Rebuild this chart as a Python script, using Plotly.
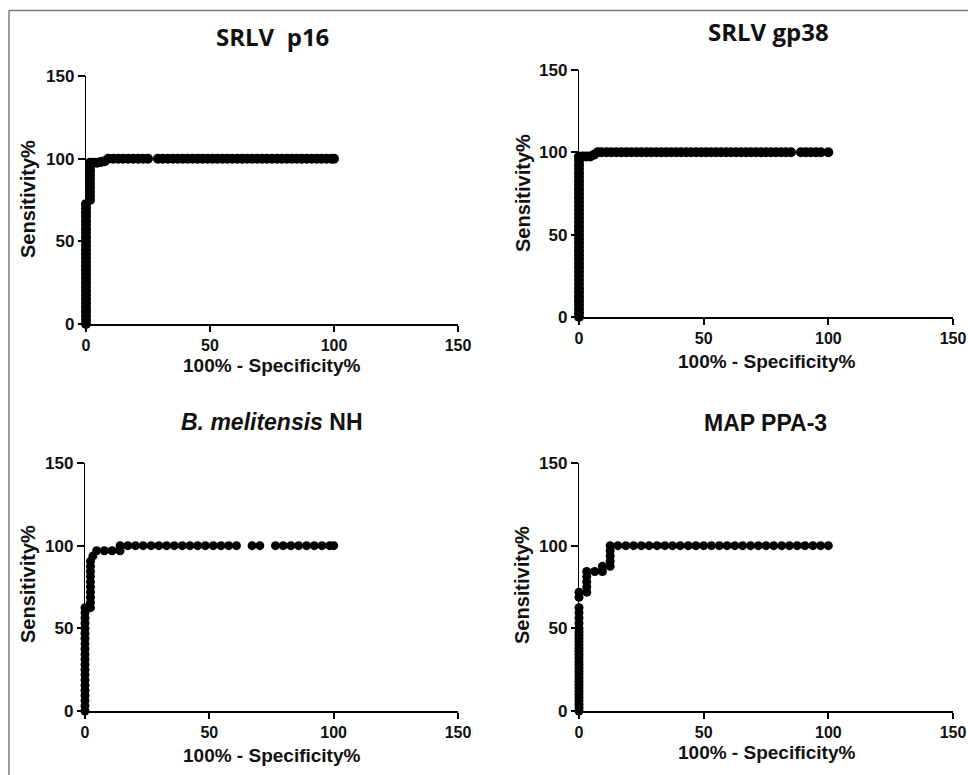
import plotly.graph_objects as go

# ---------------- data ----------------
PANEL_TITLES = ["SRLV  p16", "SRLV gp38", "<i>B. melitensis</i> NH", "MAP PPA-3"]
X_TITLE = "100% - Specificity%"
Y_TITLE = "Sensitivity%"
TICK_VALUES = [0, 50, 100, 150]

P16_FPR = [
    0, 0, 0, 0, 0, 0, 0, 0, 0, 0,
    0, 0, 0, 0, 0, 0, 0, 0, 0, 0,
    0, 0, 0, 0, 0, 0, 0, 0, 0, 0,
    1.6, 1.6, 1.6, 1.6, 1.6, 1.6, 1.6, 1.6, 1.6, 1.6,
    3, 4.5, 6, 7.5, 9, 11, 13, 15, 17, 19,
    21, 23, 25, 29, 31, 33, 35, 37, 39, 41,
    43, 45, 47, 49, 51, 53, 55, 57, 59, 61,
    63, 65, 67, 69, 71, 73, 75, 77, 79, 81,
    83, 85, 87, 89, 91, 93, 95, 97, 99, 100,
]
P16_SENS = [
    0, 2.5, 5, 7.5, 10, 12.5, 15, 17.5, 20, 22.5,
    25, 27.5, 30, 32.5, 35, 37.5, 40, 42.5, 45, 47.5,
    50, 52.5, 55, 57.5, 60, 62.5, 65, 67.5, 70, 72.5,
    75, 77.5, 80, 82.5, 85, 87.5, 90, 92.5, 95, 97.5,
    97.5, 97.5, 98, 98.5, 100, 100, 100, 100, 100, 100,
    100, 100, 100, 100, 100, 100, 100, 100, 100, 100,
    100, 100, 100, 100, 100, 100, 100, 100, 100, 100,
    100, 100, 100, 100, 100, 100, 100, 100, 100, 100,
    100, 100, 100, 100, 100, 100, 100, 100, 100, 100,
]

GP38_FPR = [
    0, 0, 0, 0, 0, 0, 0, 0, 0, 0,
    0, 0, 0, 0, 0, 0, 0, 0, 0, 0,
    0, 0, 0, 0, 0, 0, 0, 0, 0, 0,
    0, 0, 0, 0, 0, 0, 0, 0, 0, 0,
    1.5, 3, 4.5, 6, 7.5, 9, 11, 13, 15, 17,
    19, 21, 23, 25, 27, 29, 31, 33, 35, 37,
    39, 41, 43, 45, 47, 49, 51, 53, 55, 57,
    59, 61, 63, 65, 67, 69, 71, 73, 75, 77,
    79, 81, 83, 85, 89, 91, 93, 95, 97, 100,
]
GP38_SENS = [
    0, 2.5, 5, 7.5, 10, 12.5, 15, 17.5, 20, 22.5,
    25, 27.5, 30, 32.5, 35, 37.5, 40, 42.5, 45, 47.5,
    50, 52.5, 55, 57.5, 60, 62.5, 65, 67.5, 70, 72.5,
    75, 77.5, 80, 82.5, 85, 87.5, 90, 92.5, 95, 97.5,
    97.5, 97.5, 97.5, 98.5, 100, 100, 100, 100, 100, 100,
    100, 100, 100, 100, 100, 100, 100, 100, 100, 100,
    100, 100, 100, 100, 100, 100, 100, 100, 100, 100,
    100, 100, 100, 100, 100, 100, 100, 100, 100, 100,
    100, 100, 100, 100, 100, 100, 100, 100, 100, 100,
]

MEL_FPR = [
    0, 0, 0, 0, 0, 0, 0, 0, 0, 0,
    0, 0, 0, 0, 0, 0, 0, 0, 0, 0,
    0, 2.2, 2.2, 2.2, 2.2, 2.2, 2.2, 2.2, 2.2, 2.2,
    2.2, 3.2, 4.7, 7.8, 10.9, 14.1, 14.1, 17.2, 20.3, 23.4,
    26.6, 29.7, 32.8, 35.9, 39.1, 42.2, 45.3, 48.4, 51.6, 54.7,
    57.8, 60.9, 67.2, 70.3, 76.6, 79.7, 82.8, 85.9, 89.1, 92.2,
    95.3, 98.4, 100,
]
MEL_SENS = [
    0, 3.1, 6.3, 9.4, 12.5, 15.6, 18.8, 21.9, 25, 28.1,
    31.3, 34.4, 37.5, 40.6, 43.8, 46.9, 50, 53.1, 56.3, 59.4,
    62.5, 62.5, 65.6, 68.8, 71.9, 75, 78.1, 81.3, 84.4, 87.5,
    90.6, 93.8, 96.9, 96.9, 96.9, 96.9, 100, 100, 100, 100,
    100, 100, 100, 100, 100, 100, 100, 100, 100, 100,
    100, 100, 100, 100, 100, 100, 100, 100, 100, 100,
    100, 100, 100,
]

MAP_FPR = [
    0, 0, 0, 0, 0, 0, 0, 0, 0, 0,
    0, 0, 0, 0, 0, 0, 0, 0, 0, 0,
    0, 0, 0, 0, 0, 0, 0, 0, 0, 0,
    0, 0, 3.1, 3.1, 3.1, 3.1, 3.1, 6.3, 9.4, 9.4,
    12.5, 12.5, 12.5, 12.5, 12.5, 15.6, 18.8, 21.9, 25, 28.1,
    31.3, 34.4, 37.5, 40.6, 43.8, 46.9, 50, 53.1, 56.3, 59.4,
    62.5, 65.6, 68.8, 71.9, 75, 78.1, 81.3, 84.4, 87.5, 90.6,
    93.8, 96.9, 100,
]
MAP_SENS = [
    0, 2, 4, 6, 8, 10, 12, 14, 16, 18,
    20, 22, 24, 26, 28, 30, 32, 34, 36, 38,
    40, 42, 44, 46, 48, 50, 53.1, 56.3, 59.4, 62.5,
    68.8, 71.9, 71.9, 75, 78.1, 81.3, 84.4, 84.4, 84.4, 87.5,
    87.5, 90.6, 93.8, 96.9, 100, 100, 100, 100, 100, 100,
    100, 100, 100, 100, 100, 100, 100, 100, 100, 100,
    100, 100, 100, 100, 100, 100, 100, 100, 100, 100,
    100, 100, 100,
]

SERIES = [
    (P16_FPR, P16_SENS),
    (GP38_FPR, GP38_SENS),
    (MEL_FPR, MEL_SENS),
    (MAP_FPR, MAP_SENS),
]
for fx, fy in SERIES:
    assert len(fx) == len(fy)

# ---------------- layout (pixel geometry) ----------------
W, H = 968, 775
# plot areas: (left, right, top, bottom) in px
AREAS = [(86, 458, 76, 324), (579, 953, 70, 317), (85, 458, 463, 711), (579, 953, 463, 711)]
MARKER_SIZES = [10, 10, 9, 9]
TITLE_POS = [(272, 37), (768, 32), (272, 422), (765, 423)]
TITLE_FONTS = ["Open Sans", "Open Sans", "Liberation Sans, Arial", "Liberation Sans, Arial"]
TITLE_SIZES = [24, 24, 23, 23]
XT_POS = [(272, 365), (767, 361), (272, 755), (767, 752)]
YT_POS = [(28, 199), (523, 193), (28, 584), (522, 585)]

FONT = "Liberation Sans, Arial, sans-serif"
FRAME = dict(color="#7a7a7a", width=1.5)

fig = go.Figure()
layout = dict(
    width=W, height=H, autosize=False,
    margin=dict(l=0, r=0, t=0, b=0, pad=0),
    paper_bgcolor="white", plot_bgcolor="white",
    showlegend=False,
    annotations=[],
    shapes=[
        dict(type="line", xref="paper", yref="paper",
             x0=9 / W, x1=1, y0=1 - 10.5 / H, y1=1 - 10.5 / H, line=FRAME),
        dict(type="line", xref="paper", yref="paper",
             x0=9 / W, x1=9 / W, y0=0, y1=1 - 10.5 / H, line=FRAME),
    ],
)

for i, ((fx, fy), (l, r, t, b)) in enumerate(zip(SERIES, AREAS)):
    sfx = "" if i == 0 else str(i + 1)
    fig.add_trace(go.Scatter(
        x=fx, y=fy, mode="markers",
        marker=dict(color="black", size=MARKER_SIZES[i], line=dict(width=0)),
        cliponaxis=False, hoverinfo="skip",
        xaxis="x" + sfx, yaxis="y" + sfx,
    ))
    common = dict(
        range=[0, 150], tickvals=TICK_VALUES, ticks="outside", ticklen=7,
        tickcolor="black", showgrid=False, zeroline=False, showline=True,
        linecolor="black", layer="below traces", fixedrange=True, automargin=False,
    )
    layout["xaxis" + sfx] = dict(common, domain=[l / W, r / W], anchor="y" + sfx,
                                 linewidth=2, tickwidth=2, ticklen=6,
                                 tickfont=dict(family=FONT, size=16, color="#111111", weight="bold"))
    layout["yaxis" + sfx] = dict(common, domain=[(H - b) / H, (H - t) / H], anchor="x" + sfx,
                                 linewidth=1.3, tickwidth=1.5,
                                 tickfont=dict(family=FONT, size=17, color="#111111", weight="bold"))
    tx, ty = TITLE_POS[i]
    layout["annotations"].append(dict(
        text=PANEL_TITLES[i], x=tx / W, y=1 - ty / H, xref="paper", yref="paper",
        xanchor="center", yanchor="middle", showarrow=False,
        font=dict(family=TITLE_FONTS[i], size=TITLE_SIZES[i], color="#111111", weight="bold"),
    ))
    xx, xy = XT_POS[i]
    layout["annotations"].append(dict(
        text=X_TITLE, x=xx / W, y=1 - xy / H, xref="paper", yref="paper",
        xanchor="center", yanchor="middle", showarrow=False,
        font=dict(family=FONT, size=19, color="#111111", weight="bold"),
    ))
    yx, yy = YT_POS[i]
    layout["annotations"].append(dict(
        text=Y_TITLE, x=yx / W, y=1 - yy / H, xref="paper", yref="paper",
        xanchor="center", yanchor="middle", showarrow=False, textangle=-90,
        font=dict(family=FONT, size=20, color="#111111", weight="bold"),
    ))

fig.update_layout(**layout)
fig.write_html(
    "out.html",
    config={"displayModeBar": False},
    post_script=(
        "document.documentElement.style.margin='0';"
        "document.body.style.margin='0';"
        "document.body.style.overflow='hidden';"
        "var d=document.getElementById('{plot_id}');"
        "d.style.position='fixed';d.style.top='0px';d.style.left='0px';"
    ),
)
